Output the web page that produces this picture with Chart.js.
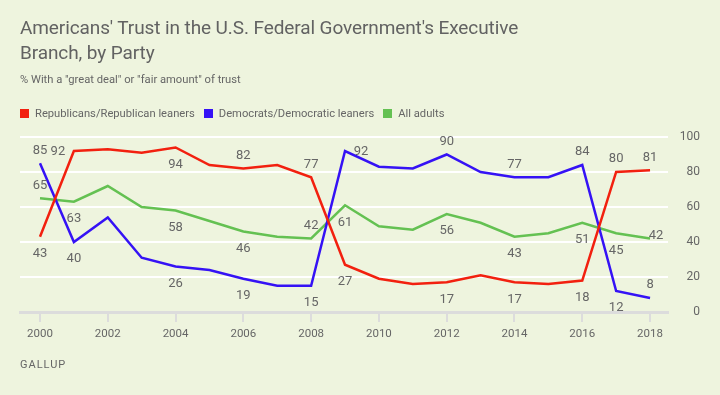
<!DOCTYPE html>
<html>
<head>
<meta charset="utf-8">
<script src="https://cdn.jsdelivr.net/npm/chart.js@4.4.1/dist/chart.umd.min.js"></script>
<style>
  html, body { margin: 0; padding: 0; background: #eef4de; }
  #wrap { position: relative; width: 720px; height: 395px; background: #eef4de;
          font-family: 'Roboto', sans-serif; color: #666; }
  #chart { position: absolute; left: 0; top: 0; }
  .title { position: absolute; left: 20px; top: 15px; font-size: 19px; line-height: 25px; color: #626262; letter-spacing: -0.1px; }
  .sub { position: absolute; left: 20px; top: 73px; font-size: 11.2px; color: #666; }
  .legend { position: absolute; left: 20px; top: 107px; font-size: 11.2px; color: #666; display: flex; }
  .legend span.item { display: flex; align-items: center; margin-right: 9px; }
  .legend i { display: inline-block; width: 9px; height: 9px; margin-right: 6px; }
  .source { position: absolute; left: 20px; top: 358px; font-size: 11px; letter-spacing: 1px; color: #666; }
</style>
</head>
<body>
<div id="wrap">
  <canvas id="chart" width="720" height="395"></canvas>
  <div class="title">Americans' Trust in the U.S. Federal Government's Executive<br>Branch, by Party</div>
  <div class="sub">% With a "great deal" or "fair amount" of trust</div>
  <div class="legend" id="legend"></div>
  <div class="source">GALLUP</div>
</div>
<script>
const years = [2000, 2001, 2002, 2003, 2004, 2005, 2006, 2007, 2008, 2009,
               2010, 2011, 2012, 2013, 2014, 2015, 2016, 2017, 2018];
const republicans = [43, 92, 93, 91, 94, 84, 82, 84, 77, 27, 19, 16, 17, 21, 17, 16, 18, 80, 81];
const democrats   = [85, 40, 54, 31, 26, 24, 19, 15, 15, 92, 83, 82, 90, 80, 77, 77, 84, 12, 8];
const allAdults   = [65, 63, 72, 60, 58, 52, 46, 43, 42, 61, 49, 47, 56, 51, 43, 45, 51, 45, 42];
const xTicks = [2000, 2002, 2004, 2006, 2008, 2010, 2012, 2014, 2016, 2018];
const yTicks = [0, 20, 40, 60, 80, 100];

// which points carry a value label, and where (a = above, b = below, l = left, r = right)
const repLabelPos = {0: 'b', 1: 'l', 4: 'b', 6: 'a', 8: 'a', 9: 'b', 12: 'b', 14: 'b', 16: 'b', 17: 'a', 18: 'a'};
const demLabelPos = {0: 'a', 1: 'b', 4: 'b', 6: 'b', 8: 'b', 9: 'r', 12: 'a', 14: 'a', 16: 'a', 17: 'b', 18: 'a'};
const allLabelPos = {0: 'a', 1: 'b', 4: 'b', 6: 'b', 8: 'a', 9: 'b', 12: 'b', 14: 'b', 16: 'b', 17: 'b', 18: 'e'};

const offsets = { a: [0, -13], b: [0, 17], l: [-16, 1], r: [16, 1], e: [6, -3] };

const series = [
  { label: 'Republicans/Republican leaners', values: republicans, color: '#f2200f', pos: repLabelPos },
  { label: 'Democrats/Democratic leaners', values: democrats, color: '#3512f5', pos: demLabelPos },
  { label: 'All adults', values: allAdults, color: '#64c152', pos: allLabelPos }
];

// legend
const legendEl = document.getElementById('legend');
series.forEach(s => {
  legendEl.innerHTML += `<span class="item"><i style="background:${s.color}"></i>${s.label}</span>`;
});

const valueLabels = {
  id: 'valueLabels',
  afterDatasetsDraw(chart) {
    const ctx = chart.ctx;
    ctx.save();
    ctx.font = '13px Roboto, sans-serif';
    ctx.fillStyle = '#666';
    ctx.textAlign = 'center';
    ctx.textBaseline = 'middle';
    chart.data.datasets.forEach((ds, di) => {
      const meta = chart.getDatasetMeta(di);
      const pos = series[di].pos;
      Object.keys(pos).forEach(k => {
        const pt = meta.data[k];
        const off = offsets[pos[k]];
        ctx.fillText(ds.data[k].y, pt.x + off[0], pt.y + off[1]);
      });
    });
    ctx.restore();
  }
};

new Chart(document.getElementById('chart'), {
  type: 'line',
  data: {
    datasets: series.map(s => ({
      label: s.label,
      data: years.map((y, i) => ({ x: y, y: s.values[i] })),
      borderColor: s.color,
      backgroundColor: s.color,
      borderWidth: 2.5,
      pointRadius: 0,
      tension: 0
    }))
  },
  options: {
    responsive: false,
    animation: false,
    layout: { padding: { left: 20, top: 137, right: 20, bottom: 0 } },
    plugins: { legend: { display: false }, tooltip: { enabled: false } },
    scales: {
      x: {
        type: 'linear',
        min: 1999.41,
        max: 2018.53,
        afterBuildTicks: axis => { axis.ticks = xTicks.map(v => ({ value: v })); },
        afterFit: axis => { axis.height = 83; },
        grid: { drawOnChartArea: false, drawTicks: true, tickLength: 10, color: '#dcdcdc', lineWidth: 2 },
        border: { display: true, color: '#dcdcdc', width: 3 },
        ticks: {
          padding: 5,
          color: '#666',
          font: { family: 'Roboto, sans-serif', size: 11.5 },
          callback: v => String(v),
          maxRotation: 0
        }
      },
      y: {
        position: 'right',
        min: 0,
        max: 100,
        afterBuildTicks: axis => { axis.ticks = yTicks.map(v => ({ value: v })); },
        afterFit: axis => { axis.width = 32; },
        grid: { color: '#ffffff', lineWidth: 2, drawTicks: false },
        border: { display: false },
        ticks: {
          crossAlign: 'far',
          padding: 0,
          color: '#666',
          font: { family: 'Roboto, sans-serif', size: 12 }
        }
      }
    }
  },
  plugins: [valueLabels]
});
</script>
</body>
</html>
